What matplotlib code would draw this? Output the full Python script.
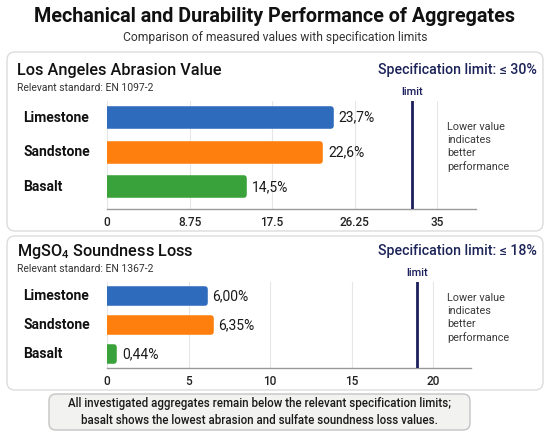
import matplotlib
matplotlib.use("Agg")
import matplotlib.pyplot as plt
from matplotlib.patches import FancyBboxPatch
from matplotlib.transforms import blended_transform_factory

plt.rcParams['font.family'] = ['Roboto', 'DejaVu Sans']
plt.rcParams['mathtext.fontset'] = 'custom'
plt.rcParams['mathtext.rm'] = 'Roboto'

# data
categories = ['Limestone', 'Sandstone', 'Basalt']
la_values = [23.7, 22.6, 14.5]
mg_values = [6.00, 6.35, 0.44]
la_labels = ['23,7%', '22,6%', '14,5%']
mg_labels = ['6,00%', '6,35%', '0,44%']
la_ticks = [0, 8.75, 17.5, 26.25, 35]
mg_ticks = [0, 5, 10, 15, 20]
la_tick_labels = ['0', '8.75', '17.5', '26.25', '35']
mg_tick_labels = ['0', '5', '10', '15', '20']
la_limit_drawn = 32.3   # where the "limit" line sits in the picture
mg_limit_drawn = 19.0
colors = ['#2e6bbd', '#ff7f0e', '#3aa23a']

W, H = 550, 436
fig = plt.figure(figsize=(W / 100, H / 100), dpi=100)
fig.patch.set_facecolor('white')


def fx(px):
    return px / W


def fy(py):
    return 1 - py / H


def rbox(x0, y0, x1, y1, face, edge, r=8):
    p = FancyBboxPatch((fx(x0), fy(y1)), fx(x1 - x0), (y1 - y0) / H,
                       boxstyle=f"round,pad=0,rounding_size={r / W}",
                       mutation_aspect=W / H, transform=fig.transFigure,
                       facecolor=face, edgecolor=edge, linewidth=1.0, zorder=-5)
    fig.patches.append(p)


# titles
fig.text(0.5, fy(16), 'Mechanical and Durability Performance of Aggregates',
         ha='center', va='center', fontsize=14.2, fontweight='bold', color='#111111')
fig.text(0.5, fy(37), 'Comparison of measured values with specification limits',
         ha='center', va='center', fontsize=8.7, color='#333333')

# panel backgrounds
rbox(7, 52, 543, 231, 'white', '#dcdcdc')
rbox(7, 236, 543, 390, 'white', '#dcdcdc')
rbox(49, 394, 470, 430, '#f2f3f1', '#c4c4c4', r=7)

fig.text(0.5 * (fx(49) + fx(470)), fy(412),
         'All investigated aggregates remain below the relevant specification limits;\n'
         'basalt shows the lowest abrasion and sulfate soundness loss values.',
         ha='center', va='center', fontsize=8.3, fontweight='medium',
         color='#1a1a1a', linespacing=1.35)


def panel(rect, values, labels, ticks, tick_labels, xmax, ylim, bar_h,
          limit_x, title, standard, spec, top_px, note_y):
    ax = fig.add_axes(rect)
    ax.set_zorder(2)
    y = list(range(len(categories)))
    ax.barh(y, values, height=bar_h, color=colors, edgecolor=colors,
            linewidth=4, joinstyle='round', zorder=3)
    ax.set_xlim(0, xmax)
    ax.set_ylim(*ylim)
    ax.set_xticks(ticks)
    ax.set_xticklabels(tick_labels, fontsize=8.5, fontweight='medium', color='#222222')
    ax.tick_params(axis='x', length=0, pad=5)
    ax.set_yticks([])
    ax.grid(axis='x', color='#e6e6e6', linewidth=0.8, zorder=0)
    for s in ['top', 'right', 'left']:
        ax.spines[s].set_visible(False)
    ax.spines['bottom'].set_color('#9a9a9a')
    ax.spines['bottom'].set_linewidth(1.0)
    ax.patch.set_alpha(0)

    for yi, v, lab in zip(y, values, labels):
        ax.annotate(lab, (v, yi), xytext=(5.5, 0), textcoords='offset points',
                    va='center', ha='left', fontsize=10, color='#1a1a1a', zorder=4)

    tr = blended_transform_factory(fig.transFigure, ax.transData)
    for yi, c in zip(y, categories):
        ax.text(fx(23), yi, c, transform=tr, ha='left', va='center',
                fontsize=10, fontweight='bold', color='#111111')

    ax.axvline(limit_x, color='#1b1f5c', linewidth=2.0, zorder=5)
    ax.annotate('limit', (limit_x, 1), xycoords=('data', 'axes fraction'),
                xytext=(0, 3), textcoords='offset points', ha='center', va='bottom',
                fontsize=8, fontweight='medium', color='#1b1f5c')

    fig.text(fx(17), fy(top_px), title, ha='left', va='center',
             fontsize=11.7, fontweight='medium', color='#111111')
    fig.text(fx(17), fy(top_px + 18), standard, ha='left', va='center',
             fontsize=7.5, color='#333333')
    fig.text(fx(537), fy(top_px), spec, ha='right', va='center',
             fontsize=10.2, fontweight='medium', color='#1b2358')
    fig.text(fx(447), fy(note_y), 'Lower value\nindicates\nbetter\nperformance',
             ha='left', va='center', fontsize=7.8, color='#3a3a3a', linespacing=1.35)
    return ax


panel([fx(107), fy(209), fx(476 - 107), 108 / H], la_values, la_labels,
      la_ticks, la_tick_labels, 39.1, (2.643, -0.486), 0.5, la_limit_drawn,
      'Los Angeles Abrasion Value', 'Relevant standard: EN 1097-2',
      'Specification limit: \u2264 30%', 70, 147)

panel([fx(107), fy(368), fx(471 - 107), 86 / H], mg_values, mg_labels,
      mg_ticks, mg_tick_labels, 22.3, (2.483, -0.483), 0.5, mg_limit_drawn,
      r'MgSO$_\mathregular{4}$ Soundness Loss', 'Relevant standard: EN 1367-2',
      'Specification limit: \u2264 18%', 251, 318)

fig.savefig('out.png', dpi=100)
